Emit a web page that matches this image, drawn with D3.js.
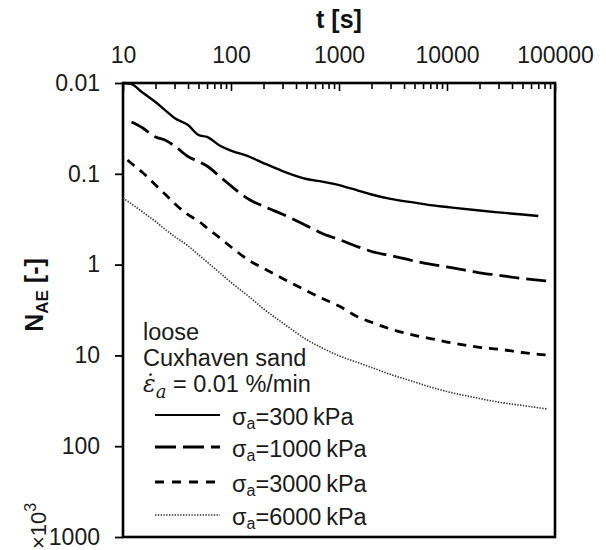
<!DOCTYPE html>
<html>
<head>
<meta charset="utf-8">
<script src="https://cdn.jsdelivr.net/npm/d3@7"></script>
<style>
  html, body { margin: 0; padding: 0; background: #fff; }
  svg { display: block; font-family: "Liberation Sans", Arial, sans-serif; }
</style>
</head>
<body>
<svg id="chart" width="606" height="550"></svg>
<script>
// Acoustic emission counts N_AE versus time t, loose Cuxhaven sand
const xTicks = [10, 100, 1000, 10000, 100000];
const yTicks = [0.01, 0.1, 1, 10, 100, 1000];

const tSolid = [10, 12, 15, 20, 25, 30, 40, 50, 60, 80, 100, 150, 200, 300, 500, 700, 1000, 1500, 2000, 3000, 5000, 7000, 10000, 20000, 30000, 50000, 70000];
const nSolid = [0.0100, 0.0103, 0.0126, 0.0162, 0.0203, 0.0243, 0.0290, 0.0374, 0.0393, 0.0494, 0.0554, 0.0653, 0.0761, 0.0932, 0.114, 0.122, 0.133, 0.153, 0.169, 0.189, 0.208, 0.221, 0.232, 0.254, 0.266, 0.281, 0.292];

const tLong = [12, 15, 20, 25, 30, 40, 50, 60, 80, 100, 150, 200, 300, 500, 700, 1000, 1500, 2000, 3000, 5000, 7000, 10000, 20000, 30000, 50000, 70000, 85000];
const nLong = [0.0269, 0.0309, 0.0393, 0.0430, 0.0494, 0.0645, 0.0732, 0.0821, 0.109, 0.136, 0.194, 0.228, 0.279, 0.373, 0.455, 0.529, 0.637, 0.717, 0.796, 0.913, 0.990, 1.06, 1.23, 1.31, 1.42, 1.48, 1.52];

const tShort = [11, 12, 15, 20, 25, 30, 40, 50, 60, 80, 100, 150, 200, 300, 500, 700, 1000, 1500, 2000, 3000, 5000, 7000, 10000, 20000, 30000, 50000, 70000, 85000];
const nShort = [0.0705, 0.0770, 0.0956, 0.133, 0.171, 0.212, 0.282, 0.331, 0.395, 0.516, 0.640, 0.913, 1.10, 1.42, 1.94, 2.36, 2.86, 3.78, 4.32, 5.12, 6.01, 6.52, 7.12, 8.14, 8.54, 9.29, 9.73, 9.90];

const tDot = [10, 12, 15, 20, 25, 30, 40, 50, 60, 80, 100, 150, 200, 300, 500, 700, 1000, 1500, 2000, 3000, 5000, 7000, 10000, 20000, 30000, 50000, 70000, 85000];
const nDot = [0.185, 0.215, 0.260, 0.335, 0.416, 0.490, 0.621, 0.778, 0.936, 1.25, 1.57, 2.30, 3.07, 4.38, 6.68, 8.29, 10.1, 12.0, 13.6, 16.2, 19.6, 22.3, 25.0, 29.8, 32.7, 35.6, 37.7, 38.9];

const stressLabels = ["300", "1000", "3000", "6000"];

const series = [
  { t: tSolid, n: nSolid, dash: null,      width: 2.4, color: "#000" },
  { t: tLong,  n: nLong,  dash: "20,7",    width: 2.8, color: "#000" },
  { t: tShort, n: nShort, dash: "9,7",     width: 2.8, color: "#000" },
  { t: tDot,   n: nDot,   dash: "1.4,1.4", width: 1.6, color: "#333" }
];

const svg = d3.select("#chart");
const pLeft = 123, pRight = 555, pTop = 83, pBottom = 537;

const x = d3.scaleLog().domain([10, 100000]).range([pLeft, pRight]);
const y = d3.scaleLog().domain([0.01, 1000]).range([pTop, pBottom]);

// minor ticks on the top axis (2..9 per decade)
const minor = [];
for (let d = 10; d < 100000; d *= 10) for (let k = 2; k <= 9; k++) minor.push(d * k);

const fontTick = 23;

svg.append("g")
  .attr("transform", `translate(0,${pTop})`)
  .call(d3.axisTop(x).tickValues(minor).tickSize(-6).tickFormat(""))
  .call(g => g.select(".domain").remove())
  .call(g => g.selectAll("line").attr("stroke", "#000").attr("stroke-width", 1.6));

svg.append("g")
  .attr("transform", `translate(0,${pTop})`)
  .call(d3.axisTop(x).tickValues(xTicks).tickSize(-8).tickPadding(20).tickFormat(d3.format("d")))
  .call(g => g.select(".domain").remove())
  .call(g => g.selectAll("line").attr("stroke", "#000").attr("stroke-width", 1.6))
  .call(g => g.selectAll("text").attr("fill", "#1a1a1a")
    .style("font-size", fontTick + "px").style("font-family", "'Liberation Sans', Arial, sans-serif"));

svg.append("g")
  .attr("transform", `translate(${pLeft},0)`)
  .call(d3.axisLeft(y).tickValues(yTicks).tickSize(8).tickPadding(15)
    .tickFormat(d => d < 1 ? String(d) : d3.format("d")(d)))
  .call(g => g.select(".domain").remove())
  .call(g => g.selectAll("line").attr("stroke", "#000").attr("stroke-width", 1.8))
  .call(g => g.selectAll("text").attr("fill", "#1a1a1a")
    .style("font-size", fontTick + "px").style("font-family", "'Liberation Sans', Arial, sans-serif"));

// plot frame
svg.append("rect")
  .attr("x", pLeft).attr("y", pTop)
  .attr("width", pRight - pLeft).attr("height", pBottom - pTop)
  .attr("fill", "none").attr("stroke", "#000").attr("stroke-width", 2.6);

// curves
const line = d3.line().x(d => x(d[0])).y(d => y(d[1])).curve(d3.curveMonotoneX);
series.forEach(s => {
  svg.append("path")
    .datum(s.t.map((t, i) => [t, s.n[i]]))
    .attr("d", line)
    .attr("fill", "none")
    .attr("stroke", s.color)
    .attr("stroke-width", s.width)
    .attr("stroke-dasharray", s.dash);
});

// axis titles
svg.append("text")
  .attr("x", (pLeft + pRight) / 2).attr("y", 28)
  .attr("text-anchor", "middle")
  .style("font-size", "25px").style("font-weight", "bold")
  .attr("fill", "#111")
  .text("t [s]");

const yt = svg.append("text")
  .attr("transform", "translate(43,295) rotate(-90)")
  .attr("text-anchor", "middle")
  .style("font-size", "25px").style("font-weight", "bold")
  .attr("fill", "#111");
yt.append("tspan").text("N");
yt.append("tspan").attr("dy", 5).style("font-size", "17px").text("AE");
yt.append("tspan").attr("dy", -5).text(" [-]");

const mult = svg.append("text")
  .attr("transform", "translate(46,549) rotate(-90)")
  .attr("text-anchor", "start")
  .style("font-size", "22px")
  .attr("fill", "#1a1a1a");
mult.append("tspan").text("×10");
mult.append("tspan").attr("dy", -10).style("font-size", "16px").text("3");

// annotation block
const fontLeg = 23.5;
svg.append("text").attr("x", 143).attr("y", 340)
  .style("font-size", fontLeg + "px").attr("fill", "#1a1a1a").text("loose");
svg.append("text").attr("x", 143).attr("y", 366)
  .style("font-size", fontLeg + "px").attr("fill", "#1a1a1a").text("Cuxhaven sand");
const rate = svg.append("text").attr("x", 143).attr("y", 392)
  .style("font-size", fontLeg + "px").attr("fill", "#1a1a1a");
rate.append("tspan").style("font-family", "'DejaVu Serif', 'Liberation Serif', serif")
  .style("font-style", "italic").text("ε\u0307");
rate.append("tspan").attr("dy", 6).style("font-family", "'DejaVu Serif', 'Liberation Serif', serif")
  .style("font-style", "italic").style("font-size", "18px").text("a");
rate.append("tspan").attr("dy", -6).text(" = 0.01 %/min");

const legY = [415, 447, 482, 515];
series.forEach((s, i) => {
  svg.append("line")
    .attr("x1", 155).attr("x2", 220)
    .attr("y1", legY[i]).attr("y2", legY[i])
    .attr("stroke", s.color)
    .attr("stroke-width", i === 0 ? 2 : s.width)
    .attr("stroke-dasharray", i === 1 ? "21,7" : i === 2 ? "9,8" : s.dash);
  const tx = svg.append("text").attr("x", 232).attr("y", legY[i] + 10)
    .style("font-size", fontLeg + "px").attr("fill", "#1a1a1a");
  tx.append("tspan").text("σ");
  tx.append("tspan").attr("dy", 4).style("font-size", "16px").text("a");
  tx.append("tspan").attr("dy", -4).text("=" + stressLabels[i] + "\u2009kPa");
});
</script>
</body>
</html>
